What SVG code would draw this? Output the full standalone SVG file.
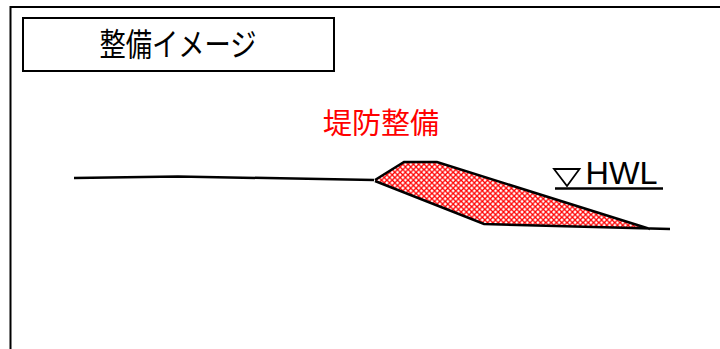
<svg xmlns="http://www.w3.org/2000/svg" width="720" height="349" viewBox="0 0 720 349">
<style>
.ln{fill:none;stroke:#000;stroke-width:2.500}
.jp{font-family:"Liberation Sans","Noto Sans CJK JP",sans-serif;text-anchor:middle}
</style>
<defs>
<pattern id="hatch" width="5.300" height="5.300" patternUnits="userSpaceOnUse">
<rect width="5.300" height="5.300" fill="#fff"/>
<path d="M0 0L5.300 5.300M5.300 0L0 5.300" stroke="#f00" stroke-width="1.300"/>
</pattern>
</defs>
<rect width="720" height="349" fill="#fff"/>
<path d="M10.500 349V7H720" fill="none" stroke="#000" stroke-width="2"/>
<g id="title">
<rect x="23" y="18" width="311" height="53" fill="#fff" stroke="#000" stroke-width="2"/>
<text class="jp" x="178" y="56" font-size="32" textLength="157" lengthAdjust="spacingAndGlyphs">整備イメージ</text>
</g>
<g id="label">
<text class="jp" x="381" y="134" font-size="29" fill="#f00">堤防整備</text>
</g>
<g id="levee">
<path d="M375 180L404 162H437L650 229L575 226L484 224Z" fill="url(#hatch)"/>
<path class="ln" d="M74 178L178 176.500L374 180M375 180L404 162H437L650 229M375 181L484 224L670 229"/>
</g>
<g id="hwl">
<path d="M554 169H579.500L567 186Z" fill="#fff" stroke="#000" stroke-width="1.800"/>
<path d="M555 188.500H663" stroke="#000" stroke-width="2.500" fill="none"/>
<text x="585.500" y="183.500" font-size="31" textLength="72" lengthAdjust="spacingAndGlyphs" font-family="Liberation Sans, sans-serif">HWL</text>
</g>
</svg>
